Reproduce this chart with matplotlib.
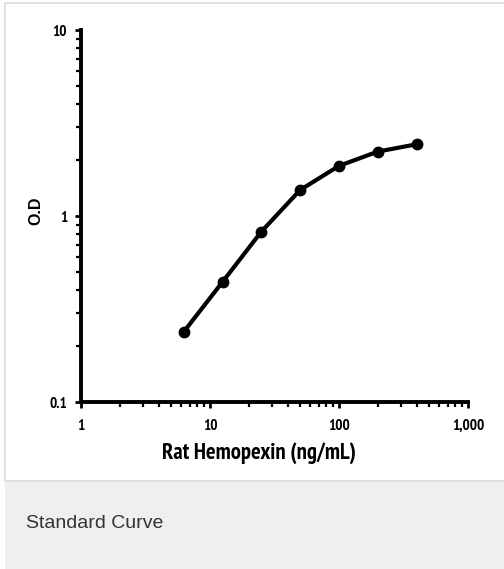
import matplotlib
matplotlib.use("Agg")
import matplotlib.pyplot as plt
from matplotlib import font_manager
from matplotlib.font_manager import FontProperties
from matplotlib.patches import Rectangle
from matplotlib.ticker import LogLocator, FixedLocator, FixedFormatter, NullFormatter

# Data
concentration = [6.25, 12.5, 25, 50, 100, 200, 400]
od_values = [0.238, 0.442, 0.824, 1.38, 1.86, 2.22, 2.43]
x_ticks = [1, 10, 100, 1000]
x_ticklabels = ["1", "10", "100", "1,000"]
y_ticks = [0.1, 1, 10]
y_ticklabels = ["0.1", "1", "10"]
x_label = "Rat Hemopexin (ng/mL)"
y_label = "O.D"
caption = "Standard Curve"


def _w(f):
    w = f.weight
    if isinstance(w, str):
        return 700 if "bold" in w.lower() else 400
    return w


def find_narrow_bold():
    tl = font_manager.fontManager.ttflist
    for f in tl:
        if "Narrow" in f.name and _w(f) >= 600 and f.style == "normal":
            return f.fname, True
    for f in tl:
        if f.name == "DejaVu Sans" and "condensed" in str(f.stretch) and _w(f) >= 600 and f.style == "normal":
            return f.fname, True
    for f in tl:
        if f.name == "Liberation Sans" and _w(f) >= 600 and f.style == "normal":
            return f.fname, False
    return None, False


nfile, is_narrow = find_narrow_bold()


def nprop(size):
    if nfile is None:
        return FontProperties(family="DejaVu Sans", weight="bold", size=size * 0.8)
    return FontProperties(fname=nfile, size=size if is_narrow else size * 0.82)


W, H = 504, 569
fig = plt.figure(figsize=(W / 100, H / 100), dpi=100)
fig.patch.set_facecolor("white")


def px_rect(x0, y0, x1, y1, **kw):
    r = Rectangle((x0 / W, 1 - y1 / H), (x1 - x0) / W, (y1 - y0) / H,
                  transform=fig.transFigure, **kw)
    fig.patches.append(r)


# caption panel and borders
px_rect(5, 481, 505, 569, facecolor="#eeefee", edgecolor="none", zorder=-2)
px_rect(5, 3, 506, 481, facecolor="white", edgecolor="#dcdcdc", linewidth=1.2, zorder=-2)

ax = fig.add_axes([81 / W, 1 - 402 / H, (468 - 81) / W, (402 - 30) / H])
ax.set_zorder(2)
ax.set_facecolor("none")
ax.set_xscale("log")
ax.set_yscale("log")
ax.set_xlim(1, 1000)
ax.set_ylim(0.1, 10)

ax.plot(concentration, od_values, color="black", linewidth=3.0,
        marker="o", markersize=7.5, markerfacecolor="black", markeredgecolor="black",
        clip_on=False, solid_joinstyle="round")

for s in ["top", "right"]:
    ax.spines[s].set_visible(False)
for s in ["left", "bottom"]:
    ax.spines[s].set_linewidth(2.8)
    ax.spines[s].set_color("black")

ax.xaxis.set_major_locator(FixedLocator(x_ticks))
ax.xaxis.set_major_formatter(FixedFormatter(x_ticklabels))
ax.yaxis.set_major_locator(FixedLocator(y_ticks))
ax.yaxis.set_major_formatter(FixedFormatter(y_ticklabels))
ax.xaxis.set_minor_locator(LogLocator(base=10, subs=range(2, 10)))
ax.yaxis.set_minor_locator(LogLocator(base=10, subs=range(2, 10)))
ax.xaxis.set_minor_formatter(NullFormatter())
ax.yaxis.set_minor_formatter(NullFormatter())

ax.tick_params(which="major", direction="out", length=4, width=2.0, color="black", pad=8)
ax.tick_params(which="minor", direction="out", length=3.5, width=1.6, color="black")
ax.tick_params(axis="y", which="major", pad=6)

for lab in ax.get_xticklabels() + ax.get_yticklabels():
    lab.set_fontproperties(nprop(11))
    lab.set_color("black")

fig.text(259 / W, 1 - 453 / H, x_label, ha="center", va="center",
         fontproperties=nprop(16.3), color="black")
fig.text(36 / W, 1 - 211 / H, y_label, ha="center", va="center", rotation=90,
         fontsize=11.5, fontweight="bold", family="Liberation Sans", color="black")

fig.text(26 / W, 1 - 523 / H, caption, ha="left", va="center",
         fontsize=14, family="Liberation Sans", color="#333333")

fig.savefig("out.png", dpi=100, facecolor="white")
